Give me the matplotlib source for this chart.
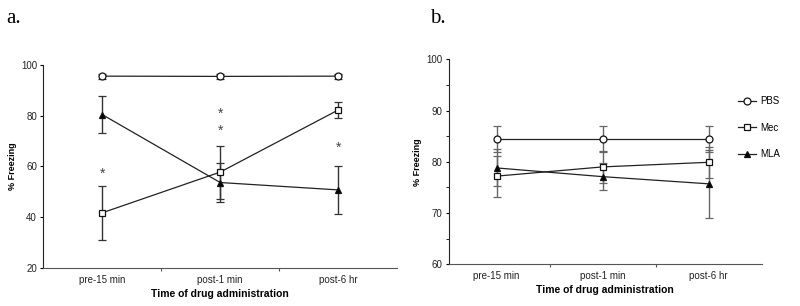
import matplotlib
matplotlib.use("Agg")
import matplotlib.pyplot as plt
from matplotlib.lines import Line2D

categories = ["pre-15 min", "post-1 min", "post-6 hr"]
series = ["PBS", "Mec", "MLA"]

# Panel a
pbs_a = [95.5, 95.4, 95.5]
pbs_a_err = [1.0, 1.0, 1.0]
mec_a = [41.8, 57.8, 82.2]
mec_a_err = [10.5, 10.4, 3.3]
mla_a = [80.4, 53.7, 50.8]
mla_a_err = [7.2, 7.5, 9.5]
star_x = [0, 1, 1, 2]
star_y = [57.2, 80.9, 74.0, 67.2]

# Panel b
pbs_b = [84.5, 84.5, 84.5]
pbs_b_err = [2.5, 2.5, 2.5]
mec_b = [77.2, 79.0, 79.9]
mec_b_err = [4.0, 3.1, 3.0]
mla_b = [78.8, 77.1, 75.7]
mla_b_err = [3.6, 2.6, 6.6]

plt.rcParams['font.family'] = ['Liberation Sans', 'DejaVu Sans']

fig = plt.figure(figsize=(8, 3.06), dpi=100)
axa = fig.add_axes([0.054, 0.1232, 0.4425, 0.6654])
axb = fig.add_axes([0.561, 0.1363, 0.391, 0.670])

styles = {
    "PBS": dict(marker='o', mfc='white'),
    "Mec": dict(marker='s', mfc='white'),
    "MLA": dict(marker='^', mfc='black'),
}

def draw(ax, data, ecolor):
    x = list(range(len(categories)))
    for name, (vals, errs) in zip(series, data):
        ax.errorbar(x, vals, yerr=errs, color='#222222', ecolor=ecolor,
                    elinewidth=1.0, capsize=3, capthick=1.0, lw=0.9,
                    markersize=5, mec='#111111', mew=0.9, label=name,
                    **styles[name])

draw(axa, [(pbs_a, pbs_a_err), (mec_a, mec_a_err), (mla_a, mla_a_err)], '#333333')
draw(axb, [(pbs_b, pbs_b_err), (mec_b, mec_b_err), (mla_b, mla_b_err)], '#666666')

for sx, sy in zip(star_x, star_y):
    axa.text(sx, sy, "*", ha='center', va='center', fontsize=10, color='#444444')

for ax in (axa, axb):
    ax.spines['top'].set_visible(False)
    ax.spines['right'].set_visible(False)
    ax.spines['left'].set_color('#222222')
    ax.spines['bottom'].set_color('#555555')
    ax.set_xticks([0.5, 1.5])
    ax.set_xticklabels([])
    ax.set_xticks([0, 1, 2], minor=True)
    ax.set_xticklabels(categories, minor=True, fontsize=7, color='#222222')
    ax.tick_params(axis='x', which='minor', length=0, pad=5)
    ax.tick_params(axis='x', which='major', length=2.5, color='#555555')
    ax.tick_params(axis='y', length=2.5, labelsize=7, pad=2, labelcolor='#222222')
    ax.set_xlabel("Time of drug administration", fontsize=7.5, fontweight='bold', labelpad=3)
    ax.set_ylabel("% Freezing", fontsize=6.5, fontweight='bold', labelpad=3)

axa.set_xlim(-0.5, 2.5)
axa.set_ylim(20, 100)
axa.set_yticks([20, 40, 60, 80, 100])

axb.set_xlim(-0.45, 2.5)
axb.set_ylim(60, 100)
axb.set_yticks([60, 70, 80, 90, 100])
axb.set_yticks([65, 75, 85, 95], minor=True)
axb.tick_params(axis='y', which='minor', length=2.5)

handles = [Line2D([], [], color='#222222', lw=0.9, markersize=5, mec='#111111',
                  mew=0.9, **styles[name]) for name in series]
fig.legend(handles, series, loc='center left', bbox_to_anchor=(0.922, 0.583),
           bbox_transform=fig.transFigure, frameon=False, fontsize=7,
           handlelength=1.85, handletextpad=0.5, labelspacing=1.68,
           borderaxespad=0.0, borderpad=0.0)

fig.text(0.008, 0.925, "a.", fontsize=15, family='Liberation Serif')
fig.text(0.537, 0.925, "b.", fontsize=15, family='Liberation Serif')

fig.savefig("out.png", dpi=100)
